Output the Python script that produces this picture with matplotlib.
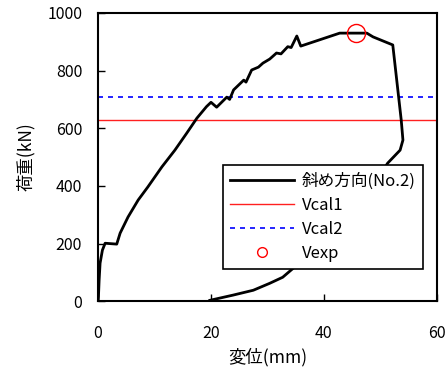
import numpy as np
import matplotlib.pyplot as plt

plt.rcParams['font.family'] = ['Noto Sans CJK JP', 'DejaVu Sans']

# --- load-displacement curve ---
disp = [0, 0.06, 0.18, 0.35, 0.76, 1.24, 3.3, 3.9, 5.3, 7.1, 8.8, 11.3, 13.6,
        15.7, 17.5, 19.2, 20.0, 21.0, 22.8, 23.3, 24.0, 25.8, 26.2, 27.2, 28.4,
        29.2, 30.4, 31.6, 32.4, 33.6, 34.2, 35.2, 35.9, 42.8, 47.6,
        48.7, 52.2, 53.7, 54.0, 53.5, 51.3, 48.0, 44.0, 40.0, 35.2, 32.7, 30.4,
        27.5, 23.9, 19.8]
load = [0, 15, 73, 132, 177, 201, 198, 236, 292, 351, 396, 466, 524,
        583, 635, 675, 690, 673, 708, 700, 733, 767, 760, 802, 812,
        826, 840, 861, 858, 883, 880, 920, 885, 930, 930,
        917, 889, 628, 559, 524, 479, 380, 280, 200, 125, 83, 62,
        38, 21, 3]

vcal1 = 628
vcal2 = 709
vexp_x = [45.7]
vexp_y = [932]

fig = plt.figure(figsize=(4.48, 3.7), dpi=100)
ax = fig.add_axes([0.219, 0.186, 0.756, 0.779])

ax.plot(disp, load, color='black', lw=2.0, label='斜め方向(No.2)', zorder=3)
ax.axhline(vcal1, color='#ff2020', lw=1.0, label='Vcal1')
ax.axhline(vcal2, color='blue', lw=1.2, ls=(0, (3, 3)), label='Vcal2')
ax.plot(vexp_x, vexp_y, 'o', mfc='none', mec='red', ms=13, mew=1.0, zorder=4)
ax.plot([], [], 'o', mfc='none', mec='red', ms=7, mew=1.0, label='Vexp')

ax.set_xlim(0, 60)
ax.set_ylim(0, 1000)
ax.set_xticks([0, 20, 40, 60])
ax.set_yticks(range(0, 1001, 200))
ax.tick_params(direction='in', length=5, width=1, labelsize=11.5)
ax.tick_params(axis='x', pad=17)
ax.tick_params(axis='y', pad=11.5)
for s in ax.spines.values():
    s.set_linewidth(1.5)
ax.set_xlabel('変位(mm)', fontsize=12.5, labelpad=4)
ax.set_ylabel('荷重(kN)', fontsize=12.5, labelpad=9)

leg = ax.legend(loc='upper left', bbox_to_anchor=(0.368, 0.472), fontsize=12,
                frameon=True, fancybox=False, edgecolor='black', framealpha=1,
                handlelength=3.8, borderpad=0.45, labelspacing=0.42,
                handletextpad=0.5, borderaxespad=0)
leg.get_frame().set_linewidth(1.2)

fig.savefig('out.png', dpi=100)
